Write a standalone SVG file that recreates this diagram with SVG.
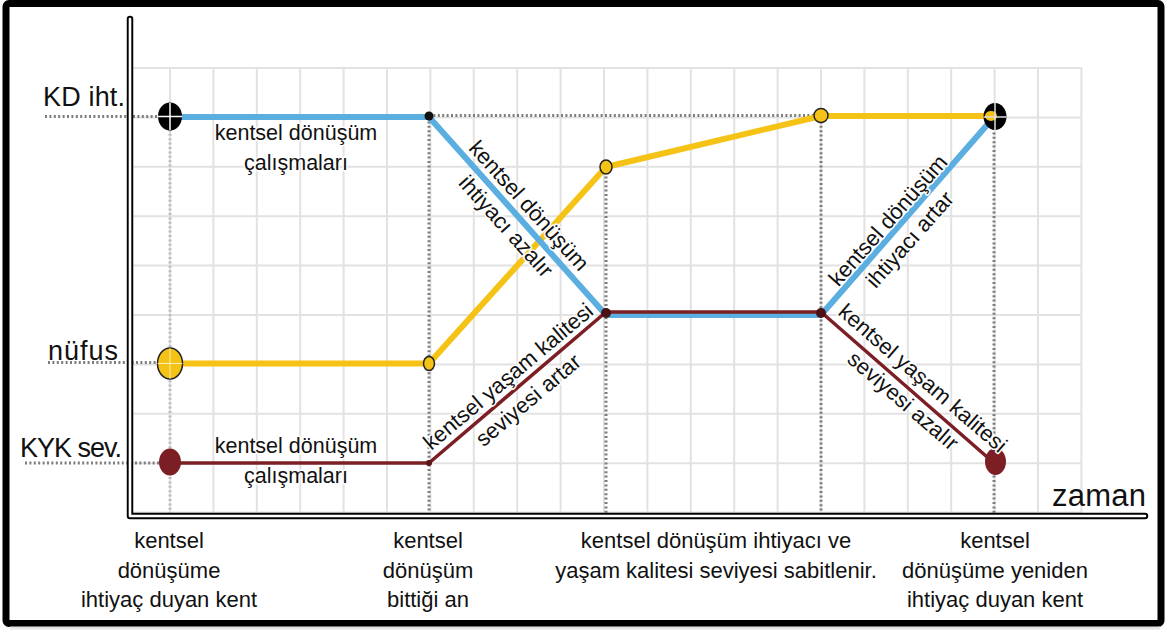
<svg xmlns="http://www.w3.org/2000/svg" width="1166" height="632" viewBox="0 0 1166 632">
<defs>
<style>
.grid{stroke:#e2e2e2;stroke-width:2;fill:none}
.dot{stroke:#7d7d7d;stroke-width:3;stroke-dasharray:2 2.4;fill:none}
.dotl{stroke:#bdbdbd;stroke-width:3;stroke-dasharray:2 2.4;fill:none}
.blue{stroke:#5aaee0;stroke-width:6;fill:none;stroke-linejoin:round}
.yel{stroke:#f5c316;stroke-width:6;fill:none;stroke-linejoin:round}
.red{stroke:#7b1f24;stroke-width:3.5;fill:none;stroke-linejoin:round}
text{font-family:"Liberation Sans",Arial,sans-serif;fill:#111}
.ax{font-size:27px}
.lab{font-size:21.5px;text-anchor:middle;stroke:#fff;stroke-width:3;paint-order:stroke;stroke-linejoin:round}
.bot{font-size:22px;text-anchor:middle}
.rot{font-size:22px;text-anchor:middle;stroke:#fff;stroke-width:3;paint-order:stroke;stroke-linejoin:round}
</style>
</defs>
<rect x="0" y="0" width="1166" height="632" fill="#fff"/>
<rect x="6" y="3.5" width="1155" height="620" rx="3" fill="none" stroke="#000" stroke-width="7"/>
<line x1="10" y1="628" x2="1160" y2="628" stroke="#e6e6e6" stroke-width="3"/>

<g id="grid">
<path class="grid" d="M133 68H1082M133 117.4H1082M133 166.8H1082M133 216.2H1082M133 265.6H1082M133 315H1082M133 364.4H1082M133 413.8H1082M133 463.2H1082M133 512.6H1082"/>
<path class="grid" d="M170 68V513M213.4 68V513M256.8 68V513M300.2 68V513M343.6 68V513M387 68V513M430.4 68V513M473.8 68V513M517.2 68V513M560.6 68V513M604 68V513M647.4 68V513M690.8 68V513M734.2 68V513M777.6 68V513M821 68V513M864.4 68V513M907.8 68V513M951.2 68V513M994.6 68V513M1038 68V513M1081.4 68V513"/>
</g>

<g id="guides">
<path class="dot" d="M45 116.5H170M48 362.5H170M25 463H170M429 115.5H994"/>
<path class="dotl" d="M170 125V514"/>
<path class="dot" d="M429 117V514M606 172V514M821 117V514M994 128V514"/>
</g>

<g id="axes">
<path d="M130 19V516H1145" fill="none" stroke="#000" stroke-width="6.5" stroke-linecap="round" stroke-linejoin="round"/>
<path d="M130 19V516H1145" fill="none" stroke="#fff" stroke-width="2.6" stroke-linecap="round" stroke-linejoin="round"/>
</g>

<g id="connectors">
<path class="yel" d="M170 363.5H429L606 167L821 116H994"/>
<path class="blue" d="M170 117H429L606 315H821L994 117"/>
<path class="red" d="M170 463H429L606 312H821L994 463"/>
</g>

<g id="node-kd-start">
<ellipse cx="170" cy="116.5" rx="12" ry="14" fill="#000"/>
<path d="M170 103V130M158 116.5H182" stroke="#fff" stroke-width="1.5"/>
</g>
<g id="node-kd-end">
<ellipse cx="995" cy="116.5" rx="11.5" ry="13.5" fill="#000"/>
<ellipse cx="991" cy="116" rx="6" ry="5" fill="#f5c316"/>
<path d="M995 103V130M983.5 117H1006.5" stroke="#ddd" stroke-width="1.5"/>
</g>
<g id="node-kd-mid"><circle cx="429" cy="116" r="4.5" fill="#111"/></g>

<g id="node-nufus-start">
<ellipse cx="170" cy="363.5" rx="12.5" ry="15.5" fill="#f5c316" stroke="#222" stroke-width="1.5"/>
<path d="M170 348V379M157.5 363.5H182.5" stroke="#fff" stroke-width="1" opacity="0.7"/>
</g>
<g id="node-nufus-1"><ellipse cx="429" cy="363.5" rx="5.5" ry="7" fill="#f5c316" stroke="#222" stroke-width="1.5"/></g>
<g id="node-nufus-2"><ellipse cx="606" cy="167" rx="6" ry="7" fill="#f5c316" stroke="#222" stroke-width="1.5"/></g>
<g id="node-nufus-3"><ellipse cx="821" cy="115.5" rx="7" ry="7" fill="#f5c316" stroke="#222" stroke-width="1.5"/></g>

<g id="node-kyk-start"><ellipse cx="170" cy="462" rx="11" ry="13.5" fill="#7b1f24"/></g>
<g id="node-kyk-1"><circle cx="429" cy="463" r="3" fill="#5a1518"/></g>
<g id="node-kyk-2"><circle cx="606" cy="313" r="5" fill="#4a1215"/></g>
<g id="node-kyk-3"><circle cx="821" cy="313" r="5" fill="#4a1215"/></g>
<g id="node-kyk-end"><ellipse cx="995.5" cy="461.5" rx="10.5" ry="13.5" fill="#7b1f24"/></g>

<g id="axis-labels">
<text class="ax" x="125" y="106" text-anchor="end" textLength="82">KD iht.</text>
<text class="ax" x="118" y="360" text-anchor="end" textLength="70">nüfus</text>
<text class="ax" x="122" y="457" text-anchor="end" textLength="102">KYK sev.</text>
<text x="1146" y="506" text-anchor="end" font-size="31" textLength="94">zaman</text>
</g>

<g id="phase-labels">
<text class="lab" x="296" y="140">kentsel dönüşüm</text>
<text class="lab" x="296" y="170">çalışmaları</text>
<text class="lab" x="296" y="453">kentsel dönüşüm</text>
<text class="lab" x="296" y="483">çalışmaları</text>
</g>

<g id="slope-labels">
<g transform="translate(517.5 216) rotate(47.9)">
<text class="rot" x="0" y="-8">kentsel dönüşüm</text>
<text class="rot" x="0" y="23">ihtiyacı azalır</text>
</g>
<g transform="translate(517.5 387.5) rotate(-40.1)">
<text class="rot" x="0" y="-7">kentsel yaşam kalitesi</text>
<text class="rot" x="0" y="24">seviyesi artar</text>
</g>
<g transform="translate(896.6 227.9) rotate(-48.5)">
<text class="rot" x="0" y="-4">kentsel dönüşüm</text>
<text class="rot" x="0" y="25">ihtiyacı artar</text>
</g>
<g transform="translate(911.4 391.3) rotate(40.8)">
<text class="rot" x="0" y="-10">kentsel yaşam kalitesi</text>
<text class="rot" x="0" y="20">seviyesi azalır</text>
</g>
</g>

<g id="time-labels">
<text class="bot" x="169" y="548">kentsel</text>
<text class="bot" x="169" y="578">dönüşüme</text>
<text class="bot" x="169" y="607">ihtiyaç duyan kent</text>
<text class="bot" x="428" y="548">kentsel</text>
<text class="bot" x="428" y="578">dönüşüm</text>
<text class="bot" x="428" y="607">bittiği an</text>
<text class="bot" x="716" y="548">kentsel dönüşüm ihtiyacı ve</text>
<text class="bot" x="716" y="578">yaşam kalitesi seviyesi sabitlenir.</text>
<text class="bot" x="995" y="548">kentsel</text>
<text class="bot" x="995" y="578">dönüşüme yeniden</text>
<text class="bot" x="995" y="607">ihtiyaç duyan kent</text>
</g>
</svg>
